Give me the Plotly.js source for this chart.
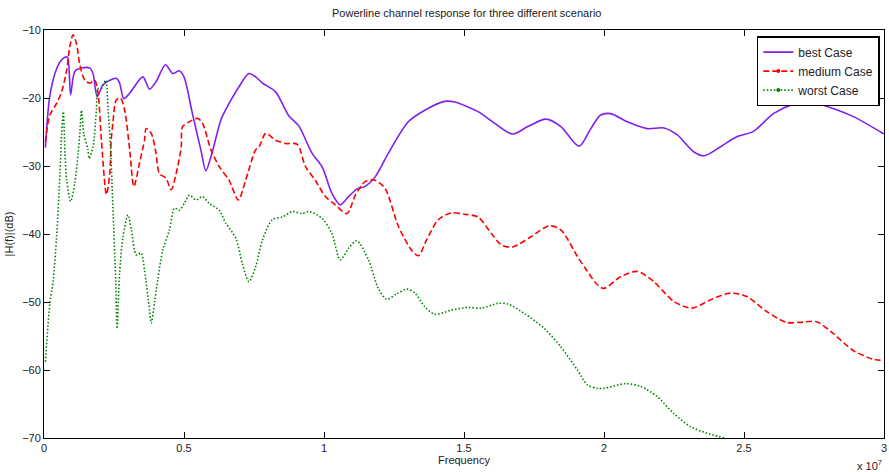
<!DOCTYPE html>
<html>
<head>
<meta charset="utf-8">
<script src="https://cdn.plot.ly/plotly-3.0.1.min.js"></script>
<style>html,body{margin:0;padding:0;background:#fff;}#chart{width:889px;height:472px;}</style>
</head>
<body>
<div id="chart"></div>
<script>
// Frequency in units of 1e7 Hz, response in dB
var bestX = [0.005,0.02,0.04,0.057,0.075,0.084,0.095,0.11,0.134,0.164,0.175,0.19,0.21,0.235,0.258,0.27,0.285,0.306,0.353,0.377,0.4,0.434,0.46,0.483,0.5,0.53,0.56,0.578,0.6,0.632,0.661,0.697,0.732,0.756,0.78,0.827,0.874,0.91,0.957,0.993,1.028,1.058,1.088,1.117,1.147,1.183,1.23,1.301,1.36,1.43,1.467,1.55,1.609,1.674,1.728,1.793,1.846,1.911,1.953,1.988,2.024,2.083,2.154,2.214,2.261,2.32,2.358,2.415,2.474,2.534,2.605,2.676,2.729,2.794,2.889,3.0];
var bestY = [-27.3,-19.9,-16.3,-14.7,-14.0,-14.0,-19.5,-16.1,-15.6,-15.6,-16.4,-19.8,-18.1,-17.4,-17.1,-17.8,-20.1,-19.3,-16.9,-18.7,-17.6,-15.1,-16.4,-16.0,-16.9,-22.3,-27.6,-30.7,-28.1,-23.2,-20.8,-18.3,-16.4,-16.9,-17.8,-19.1,-22.6,-24.1,-28.1,-30.1,-34.0,-35.7,-34.5,-33.4,-33.0,-31.6,-28.1,-23.5,-21.8,-20.5,-20.6,-22.0,-23.7,-25.3,-24.2,-23.1,-24.2,-27.1,-24.5,-22.5,-22.3,-23.5,-24.5,-24.4,-25.4,-27.9,-28.5,-27.2,-25.7,-24.9,-22.3,-20.9,-20.5,-21.2,-22.7,-25.3];

var medX = [0.005,0.021,0.045,0.063,0.081,0.092,0.104,0.116,0.128,0.146,0.164,0.181,0.193,0.205,0.223,0.235,0.24,0.246,0.258,0.273,0.288,0.306,0.321,0.341,0.359,0.365,0.383,0.4,0.412,0.436,0.454,0.472,0.49,0.495,0.519,0.549,0.566,0.596,0.626,0.661,0.694,0.72,0.756,0.768,0.792,0.827,0.863,0.904,0.934,0.969,1.005,1.04,1.082,1.112,1.147,1.183,1.218,1.266,1.313,1.337,1.366,1.408,1.455,1.503,1.55,1.597,1.633,1.674,1.739,1.805,1.846,1.905,1.941,1.977,2.0,2.059,2.119,2.178,2.249,2.314,2.379,2.45,2.51,2.581,2.652,2.699,2.759,2.818,2.889,2.96,3.0];
var medY = [-26.5,-22.5,-20.8,-19.1,-15.9,-12.5,-10.7,-12.0,-15.1,-17.4,-17.8,-17.4,-19.3,-26.2,-34.2,-31.1,-26.2,-23.7,-20.3,-20.0,-21.8,-27.6,-33.0,-29.6,-26.2,-24.5,-25.2,-28.1,-31.1,-31.8,-33.5,-31.1,-27.2,-24.2,-23.5,-23.0,-23.7,-27.6,-30.1,-32.1,-35.0,-32.1,-27.6,-27.2,-25.2,-26.2,-26.7,-26.8,-30.1,-32.1,-34.5,-35.7,-37.0,-34.3,-32.3,-32.1,-33.3,-38.9,-42.4,-43.2,-40.9,-37.9,-36.9,-37.1,-37.5,-39.9,-41.6,-41.9,-40.4,-38.8,-39.4,-43.3,-45.5,-47.5,-48.0,-46.3,-45.5,-47.0,-49.9,-50.9,-49.7,-48.7,-49.2,-51.4,-53.0,-53.0,-52.9,-54.6,-57.1,-58.4,-58.6];

var worstX = [0.005,0.021,0.033,0.045,0.057,0.063,0.069,0.075,0.081,0.095,0.11,0.122,0.128,0.134,0.142,0.157,0.161,0.175,0.187,0.193,0.205,0.22,0.229,0.238,0.246,0.256,0.261,0.27,0.282,0.3,0.312,0.33,0.347,0.359,0.377,0.383,0.395,0.406,0.424,0.448,0.466,0.483,0.501,0.519,0.543,0.566,0.59,0.626,0.649,0.685,0.708,0.732,0.756,0.78,0.815,0.851,0.886,0.922,0.946,0.993,1.028,1.058,1.088,1.117,1.159,1.194,1.224,1.26,1.295,1.325,1.36,1.396,1.455,1.514,1.562,1.621,1.657,1.716,1.787,1.846,1.905,1.941,1.977,2.0,2.077,2.13,2.19,2.249,2.308,2.368,2.433,2.5];
var worstY = [-58.8,-50.2,-46.8,-40.4,-31.1,-25.2,-22.0,-28.1,-32.1,-35.2,-32.5,-28.1,-25.2,-21.8,-25.2,-27.6,-28.9,-27.2,-21.8,-18.6,-18.6,-17.4,-21.8,-27.6,-36.0,-46.8,-53.9,-45.8,-40.4,-37.2,-39.4,-43.1,-42.8,-45.3,-51.2,-53.1,-50.0,-46.8,-42.4,-39.4,-36.2,-36.5,-35.5,-34.3,-35.0,-34.5,-35.5,-36.5,-38.4,-40.6,-44.3,-47.0,-44.8,-40.9,-37.9,-37.5,-36.7,-37.0,-36.7,-37.7,-39.9,-43.8,-42.1,-41.0,-43.8,-48.0,-49.6,-48.8,-48.1,-48.7,-50.7,-51.8,-51.2,-50.8,-50.9,-50.2,-50.3,-51.7,-53.9,-56.6,-60.0,-62.2,-62.7,-62.7,-62.0,-62.4,-63.9,-66.4,-68.3,-69.3,-70.05,-71.0];

var seriesNames = ['best Case', 'medium Case', 'worst Case'];
var xTicks = [0, 0.5, 1, 1.5, 2, 2.5, 3];
var xTickText = ['0', '0.5', '1', '1.5', '2', '2.5', '3'];
var yTicks = [-70, -60, -50, -40, -30, -20, -10];

var font = 'Liberation Sans, Arial, sans-serif';

var traces = [
  {x: bestX, y: bestY, name: seriesNames[0], type: 'scatter', mode: 'lines',
   line: {color: 'rgb(128,32,240)', width: 1.6, shape: 'spline', smoothing: 0.8}},
  {x: medX, y: medY, name: seriesNames[1], type: 'scatter', mode: 'lines+markers',
   line: {color: '#ff0000', width: 1.6, dash: '6px,3px', shape: 'spline', smoothing: 0.8},
   marker: {color: '#ff0000', size: 4, line: {width: 0}},
   selectedpoints: [], unselected: {marker: {opacity: 0}}},
  {x: worstX, y: worstY, name: seriesNames[2], type: 'scatter', mode: 'lines+markers',
   line: {color: '#008000', width: 1.6, dash: '1.5px,2px', shape: 'spline', smoothing: 0.8},
   marker: {color: '#008000', size: 4, line: {width: 0}},
   selectedpoints: [], unselected: {marker: {opacity: 0}}}
];

var axisCommon = {
  showline: true, linecolor: '#000', linewidth: 1, mirror: 'ticks',
  ticks: 'inside', ticklen: 6, tickwidth: 1, tickcolor: '#000',
  showgrid: false, zeroline: false, ticklabeloverflow: 'allow',
  tickfont: {family: font, size: 11, color: '#222'}
};

var layout = {
  width: 889, height: 472,
  margin: {l: 44, r: 5, t: 30, b: 34},
  paper_bgcolor: '#fff', plot_bgcolor: '#fff',
  title: {text: 'Powerline channel response for three different scenario',
          font: {family: font, size: 11, color: '#222'}, x: 0.525, xanchor: 'center', y: 0.972, yanchor: 'middle'},
  xaxis: Object.assign({}, axisCommon, {
    range: [0, 3], tickvals: xTicks, ticktext: xTickText,
    title: {text: 'Frequency', font: {family: font, size: 11, color: '#222'}, standoff: 2}
  }),
  yaxis: Object.assign({}, axisCommon, {
    range: [-70, -10], tickvals: yTicks,
    title: {text: '|H(f)|(dB)', font: {family: font, size: 11, color: '#222'}, standoff: 6}
  }),
  showlegend: true,
  legend: {x: 0.995, xanchor: 'right', y: 0.985, yanchor: 'top',
           bgcolor: '#fff', bordercolor: '#000', borderwidth: 1.5,
           font: {family: font, size: 12, color: '#222'},
           itemwidth: 30, tracegroupgap: 0},
  annotations: [{text: 'x 10<sup>7</sup>', xref: 'paper', yref: 'paper', x: 1, y: 0, xanchor: 'right', yanchor: 'top',
                 yshift: -18, showarrow: false, font: {family: font, size: 11, color: '#222'}}]
};

Plotly.newPlot('chart', traces, layout, {displayModeBar: false, staticPlot: true});
</script>
</body>
</html>
